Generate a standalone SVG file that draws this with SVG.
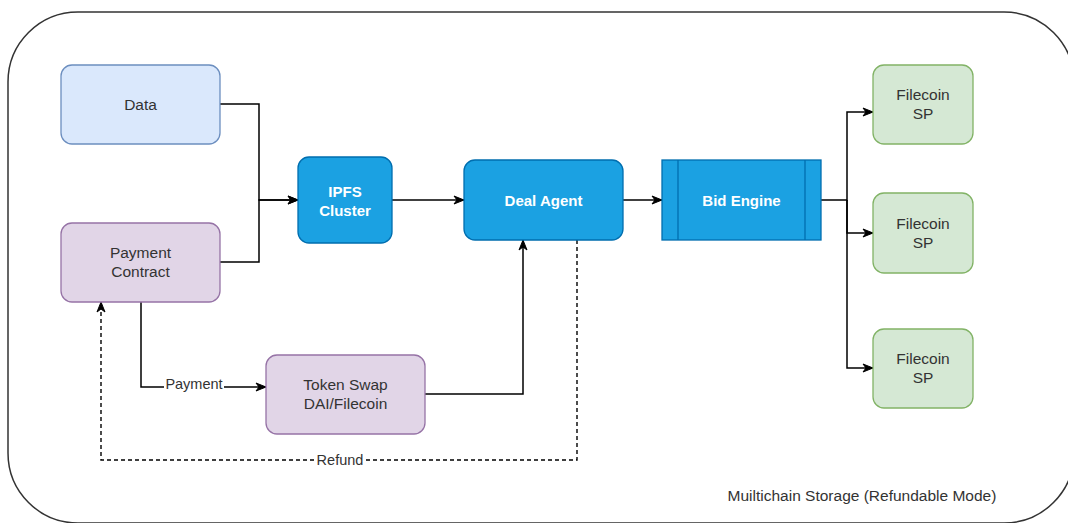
<svg xmlns="http://www.w3.org/2000/svg" width="1068" height="523" viewBox="0 0 1068 523">
<defs>
<marker id="arr" markerUnits="userSpaceOnUse" markerWidth="12" markerHeight="10" refX="11" refY="5" orient="auto">
<path d="M1,1 L11,5 L1,9 L4,5 Z" fill="#000" stroke="#000" stroke-width="1"/>
</marker>
<style>
.box{stroke-width:1.3}
.blue{fill:#1ba1e2;stroke:#006eaf}
.lblue{fill:#dae8fc;stroke:#6c8ebf}
.purple{fill:#e1d5e7;stroke:#9673a6}
.green{fill:#d5e8d4;stroke:#82b366}
.t{font-family:"Liberation Sans",Arial,sans-serif;font-size:15.5px;fill:#333;text-anchor:middle}
.tw{font-family:"Liberation Sans",Arial,sans-serif;font-size:15px;font-weight:bold;fill:#fff;text-anchor:middle}
.lbl{font-family:"Liberation Sans",Arial,sans-serif;font-size:14.5px;fill:#333;text-anchor:middle}
.ln{fill:none;stroke:#000;stroke-width:1.5}
.dash{fill:none;stroke:#000;stroke-width:1.4;stroke-dasharray:4 3}
</style>
</defs>
<rect x="0" y="0" width="1068" height="523" fill="#fff"/>
<g id="container">
<rect x="8" y="12" width="1066" height="511" rx="70" ry="70" fill="none" stroke="#333" stroke-width="1.5"/>
<text class="t" x="862" y="501">Muiltichain Storage (Refundable Mode)</text>
</g>
<g id="connectors">
<path class="ln" d="M220,104 H259 V200 H298" marker-end="url(#arr)"/>
<path class="ln" d="M220,262 H259 V200 H298" marker-end="url(#arr)"/>
<path class="ln" d="M392,200 H464" marker-end="url(#arr)"/>
<path class="ln" d="M623,200 H662" marker-end="url(#arr)"/>
<path class="ln" d="M821,200 H847 V112 H873" marker-end="url(#arr)"/>
<path class="ln" d="M847,200 V233 H873" marker-end="url(#arr)"/>
<path class="ln" d="M847,200 V368 H873" marker-end="url(#arr)"/>
<path class="ln" d="M141,302 V387 H266" marker-end="url(#arr)"/>
<path class="ln" d="M425,394 H523 V240" marker-end="url(#arr)"/>
<path class="dash" d="M577,240 V460 H101 V302" marker-end="url(#arr)"/>
<rect x="164" y="378" width="60" height="16" fill="#fff"/>
<text class="lbl" x="194" y="389">Payment</text>
<rect x="316" y="452" width="48" height="16" fill="#fff"/>
<text class="lbl" x="340" y="465">Refund</text>
</g>
<g id="data">
<rect class="box lblue" x="61" y="65" width="159" height="79" rx="11"/>
<text class="t" x="140.5" y="109.5">Data</text>
</g>
<g id="payment-contract">
<rect class="box purple" x="61" y="223" width="159" height="79" rx="11"/>
<text class="t" x="140.5" y="258">Payment</text>
<text class="t" x="140.5" y="277">Contract</text>
</g>
<g id="token-swap">
<rect class="box purple" x="266" y="355" width="159" height="79" rx="11"/>
<text class="t" x="345.5" y="390">Token Swap</text>
<text class="t" x="345.5" y="409">DAI/Filecoin</text>
</g>
<g id="ipfs-cluster">
<rect class="box blue" x="298" y="157" width="94" height="86" rx="11"/>
<text class="tw" x="345" y="196.5">IPFS</text>
<text class="tw" x="345" y="215.5">Cluster</text>
</g>
<g id="deal-agent">
<rect class="box blue" x="464" y="160" width="159" height="80" rx="11"/>
<text class="tw" x="543.5" y="205.5">Deal Agent</text>
</g>
<g id="bid-engine">
<rect class="box blue" x="662" y="160" width="159" height="80"/>
<line x1="678" y1="160" x2="678" y2="240" stroke="#006eaf" stroke-width="1.3"/>
<line x1="805" y1="160" x2="805" y2="240" stroke="#006eaf" stroke-width="1.3"/>
<text class="tw" x="741.5" y="205.5">Bid Engine</text>
</g>
<g id="filecoin-sp-1">
<rect class="box green" x="873" y="65" width="100" height="79" rx="11"/>
<text class="t" x="923" y="100">Filecoin</text>
<text class="t" x="923" y="119">SP</text>
</g>
<g id="filecoin-sp-2">
<rect class="box green" x="873" y="193" width="100" height="80" rx="11"/>
<text class="t" x="923" y="228.5">Filecoin</text>
<text class="t" x="923" y="247.5">SP</text>
</g>
<g id="filecoin-sp-3">
<rect class="box green" x="873" y="329" width="100" height="79" rx="11"/>
<text class="t" x="923" y="364">Filecoin</text>
<text class="t" x="923" y="383">SP</text>
</g>
</svg>
